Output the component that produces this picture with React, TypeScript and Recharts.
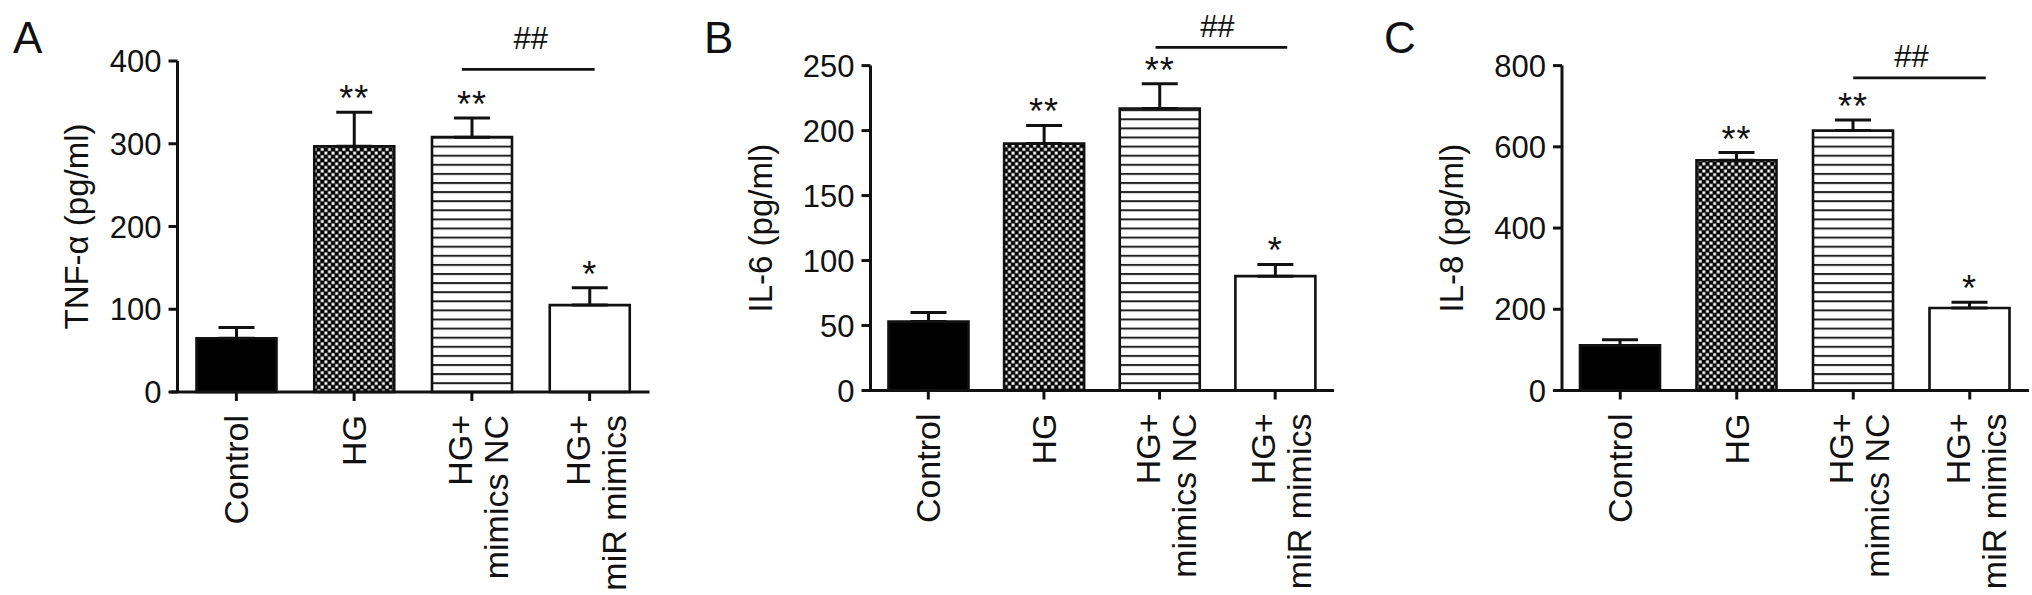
import React from 'react'
import {
  BarChart, Bar, XAxis, YAxis, ErrorBar, Cell, ReferenceLine, LabelList,
} from 'recharts'

const FONT = '"Liberation Sans", Arial, Helvetica, sans-serif'
const INK = '#111'

// groups on the x axis, '\n' splits a tick label over two lines
const groups = ['Control', 'HG', 'HG+\nmimics NC', 'HG+\nmiR mimics']
const stars = ['', '**', '**', '*']

const tnfMean = [65, 297, 308, 105]
const tnfSem = [13, 41, 23, 21]
const tnfTicks = [0, 100, 200, 300, 400]

const il6Mean = [53, 190, 217, 88]
const il6Sem = [7, 14, 19, 9]
const il6Ticks = [0, 50, 100, 150, 200, 250]

const il8Mean = [111, 567, 640, 203]
const il8Sem = [14, 19, 26, 14]
const il8Ticks = [0, 200, 400, 600, 800]

// y value of the "##" bracket between the last two groups
const bracketLevel = { tnf: 390, il6: 264, il8: 770 }

const fills = ['#000', 'url(#checker)', 'url(#stripes)', '#fff']

function GroupTick({ x, y, payload }: any) {
  const lines = String(payload.value).split('\n')
  const lh = 36
  const first = lines.length === 1 ? 12 : 0
  return (
    <g transform={`translate(${x},${y})`}>
      <text transform="rotate(-90)" textAnchor="end" fontSize={34} fill={INK} fontFamily={FONT}>
        {lines.map((l, i) => (
          <tspan key={i} x={0} y={first + i * lh}>{l}</tspan>
        ))}
      </text>
    </g>
  )
}

interface PanelProps {
  left: number
  width: number
  axisWidth: number
  right: number
  top: number
  bottom: number
  means: number[]
  sems: number[]
  ticks: number[]
  yLabel: string
  labelGap: number
  bracket: number
  bracketExt: [number, number]
  hashGap: number
}

function Panel(p: PanelProps) {
  const data = groups.map((g, i) => ({
    group: g,
    mean: p.means[i],
    err: [0, p.sems[i]],
    idx: i,
  }))
  const max = p.ticks[p.ticks.length - 1]

  const renderStar = (lp: any) => {
    const vb = lp.viewBox ?? lp
    const i = typeof lp.index === 'number' ? lp.index : lp.value
    const s = stars[i]
    if (!s) return null
    const errPx = (vb.height * p.sems[i]) / p.means[i]
    return (
      <text
        x={vb.x + vb.width / 2}
        y={vb.y - errPx - 1}
        textAnchor="middle"
        fontSize={36}
        letterSpacing={1}
        fill={INK}
        fontFamily={FONT}
      >
        {s}
      </text>
    )
  }

  const renderYLabel = (lp: any) => {
    const vb = lp.viewBox
    const cx = vb.x + vb.width - p.labelGap
    const cy = vb.y + vb.height / 2
    return (
      <text
        x={cx}
        y={cy}
        transform={`rotate(-90, ${cx}, ${cy})`}
        textAnchor="middle"
        fontSize={33}
        fill={INK}
        fontFamily={FONT}
      >
        {p.yLabel}
      </text>
    )
  }

  return (
    <div style={{ position: 'absolute', left: p.left, top: 0 }}>
      <BarChart
        width={p.width}
        height={595}
        data={data}
        margin={{ top: p.top, right: p.right, left: 0, bottom: 0 }}
      >
        <XAxis
          dataKey="group"
          interval={0}
          axisLine={false}
          tickLine={{ stroke: INK, strokeWidth: 3 }}
          tickSize={9}
          tickMargin={14}
          height={p.bottom}
          tick={(tp: any) => <GroupTick {...tp} />}
        />
        <YAxis
          type="number"
          domain={[0, max]}
          ticks={p.ticks}
          interval={0}
          width={p.axisWidth}
          tickSize={9}
          tickMargin={7}
          axisLine={{ stroke: INK, strokeWidth: 3 }}
          tickLine={{ stroke: INK, strokeWidth: 3 }}
          tick={{ fontSize: 31, fill: INK, fontFamily: FONT }}
          label={{ content: renderYLabel }}
        />
        <Bar
          dataKey="mean"
          barSize={80}
          stroke={INK}
          strokeWidth={2.6}
          isAnimationActive={false}
        >
          {data.map((d, i) => (
            <Cell key={d.group} fill={fills[i]} />
          ))}
          <ErrorBar dataKey="err" width={18} stroke={INK} strokeWidth={3} />
          <LabelList dataKey="idx" content={renderStar} />
        </Bar>
        <ReferenceLine
          y={0}
          shape={(sp: any) => (
            <line x1={sp.x1 - 7} y1={sp.y1} x2={sp.x2 + 1} y2={sp.y2} stroke={INK} strokeWidth={3} />
          )}
        />
        <ReferenceLine
          segment={[
            { x: groups[2], y: p.bracket },
            { x: groups[3], y: p.bracket },
          ]}
          ifOverflow="visible"
          shape={(sp: any) => (
            <line
              x1={sp.x1 + p.bracketExt[0]}
              y1={sp.y1}
              x2={sp.x2 + p.bracketExt[1]}
              y2={sp.y2}
              stroke={INK}
              strokeWidth={2.8}
            />
          )}
          label={{
            value: '##',
            position: 'top',
            offset: p.hashGap,
            fontSize: 31,
            fill: INK,
            fontFamily: FONT,
          }}
        />
      </BarChart>
    </div>
  )
}

export default function App() {
  return (
    <div
      style={{
        position: 'absolute',
        left: 0,
        top: 0,
        width: 2032,
        height: 595,
        background: '#fff',
        fontFamily: FONT,
      }}
    >
      <Panel
        left={0}
        width={680}
        axisWidth={177.5}
        right={31.5}
        top={61}
        bottom={203}
        means={tnfMean}
        sems={tnfSem}
        ticks={tnfTicks}
        yLabel="TNF-α (pg/ml)"
        labelGap={90}
        bracket={bracketLevel.tnf}
        bracketExt={[-10, 5]}
        hashGap={20}
      />
      <Panel
        left={680}
        width={680}
        axisWidth={190.5}
        right={27}
        top={65.6}
        bottom={204.5}
        means={il6Mean}
        sems={il6Sem}
        ticks={il6Ticks}
        yLabel="IL-6 (pg/ml)"
        labelGap={98}
        bracket={bracketLevel.il6}
        bracketExt={[-4, 12]}
        hashGap={10}
      />
      <Panel
        left={1360}
        width={672}
        axisWidth={202}
        right={4}
        top={65.6}
        bottom={204.5}
        means={il8Mean}
        sems={il8Sem}
        ticks={il8Ticks}
        yLabel="IL-8 (pg/ml)"
        labelGap={99}
        bracket={bracketLevel.il8}
        bracketExt={[0, 16]}
        hashGap={11}
      />
      <svg
        width={2032}
        height={595}
        style={{ position: 'absolute', left: 0, top: 0, pointerEvents: 'none' }}
      >
        <defs>
          <pattern id="checker" width={7.2} height={7.2} patternUnits="userSpaceOnUse">
            <rect width={7.2} height={7.2} fill="#000" />
            <rect x={0.4} y={0.4} width={2.9} height={2.9} fill="#fff" />
            <rect x={4} y={4} width={2.9} height={2.9} fill="#fff" />
          </pattern>
          <pattern id="stripes" width={10} height={9.1} patternUnits="userSpaceOnUse">
            <rect width={10} height={9.1} fill="#fff" />
            <rect y={0} width={10} height={2} fill="#222" />
          </pattern>
        </defs>
        <text x={13} y={53} fontSize={44} fill={INK} fontFamily={FONT}>A</text>
        <text x={704} y={53} fontSize={44} fill={INK} fontFamily={FONT}>B</text>
        <text x={1384} y={53} fontSize={44} fill={INK} fontFamily={FONT}>C</text>
      </svg>
    </div>
  )
}
